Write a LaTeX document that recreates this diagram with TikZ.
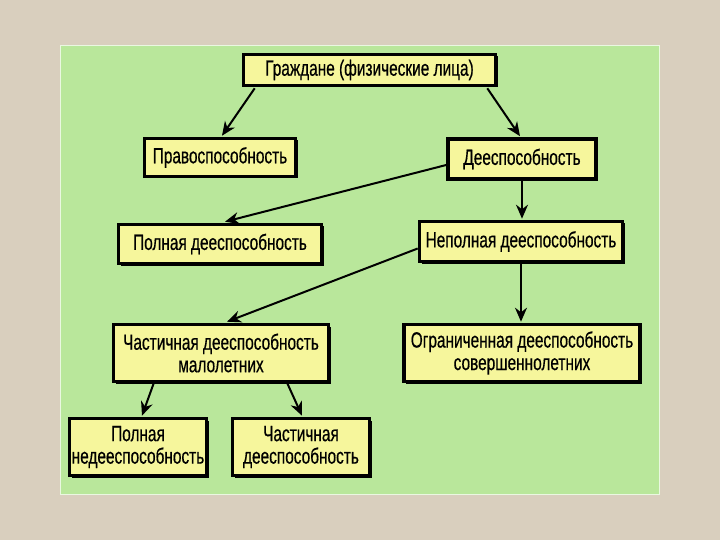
\documentclass[tikz,border=0pt]{standalone}
\usepackage{fontspec}
\setmainfont{Liberation Sans}[FakeStretch=0.7,FakeBold=0.5]
\usetikzlibrary{arrows.meta,shadows}
\definecolor{bg}{HTML}{D9CFBE}
\definecolor{panel}{HTML}{B9E79B}
\definecolor{boxfill}{HTML}{F6F69C}
\begin{document}
\begin{tikzpicture}[x=1pt,y=-1pt,
  box/.style={draw=black, line width=3.6pt, fill=boxfill, rectangle, inner sep=0pt,
    align=center, font=\fontsize{22}{22.5}\selectfont,
    drop shadow={shadow xshift=2pt, shadow yshift=-2pt, opacity=1, fill=black}},
  conn/.style={line width=2pt, -{Stealth[length=14pt,width=12pt]}}]
\useasboundingbox (0,0) rectangle (720,540);
\fill[bg] (0,0) rectangle (720,540);
\fill[panel] (60,46) rectangle (659,494);
\draw[white!70!panel, line width=1pt] (60,46) rectangle (659,494);

\node[box, minimum width=252pt, minimum height=31pt] (g) at (369.5,70) {Граждане (физические лица)};
\node[box, minimum width=151pt, minimum height=38pt] (pr) at (220,157.5) {Правоспособность};
\node[box, minimum width=148pt, minimum height=40pt] (de) at (522,159) {Дееспособность};
\node[box, minimum width=203pt, minimum height=39pt] (pd) at (220,244) {Полная дееспособность};
\node[box, minimum width=203pt, minimum height=40pt] (nd) at (521,241.5) {Неполная дееспособность};
\node[box, minimum width=215pt, minimum height=57pt] (chm) at (221,353) {Частичная дееспособность\\малолетних};
\node[box, minimum width=236pt, minimum height=57pt] (og) at (522,353) {Ограниченная дееспособность\\совершеннолетних};
\node[box, minimum width=137pt, minimum height=57pt] (pn) at (138,447) {Полная\\недееспособность};
\node[box, minimum width=137pt, minimum height=57pt] (chd) at (301,447) {Частичная\\дееспособность};

\draw[conn] ([xshift=13pt,yshift=-1pt]g.south west) -- ([xshift=2pt,yshift=1pt]pr.north);
\draw[conn] ([xshift=-10pt,yshift=-1pt]g.south east) -- ([xshift=-2pt,yshift=1pt]de.north);
\draw[conn] ([yshift=-6pt]de.west) -- ([xshift=5pt,yshift=1pt]pd.north);
\draw[conn] (de.south) -- ([yshift=1pt]de.south |- nd.north);
\draw[conn] ([yshift=-7pt]nd.west) -- ([xshift=6pt,yshift=1pt]chm.north);
\draw[conn] (nd.south) -- ([yshift=1pt]nd.south |- og.north);
\draw[conn] ([xshift=42pt]chm.south west) -- ([xshift=4pt,yshift=1pt]pn.north);
\draw[conn] ([xshift=-43pt]chm.south east) -- ([xshift=1pt,yshift=1pt]chd.north);
\end{tikzpicture}
\end{document}
